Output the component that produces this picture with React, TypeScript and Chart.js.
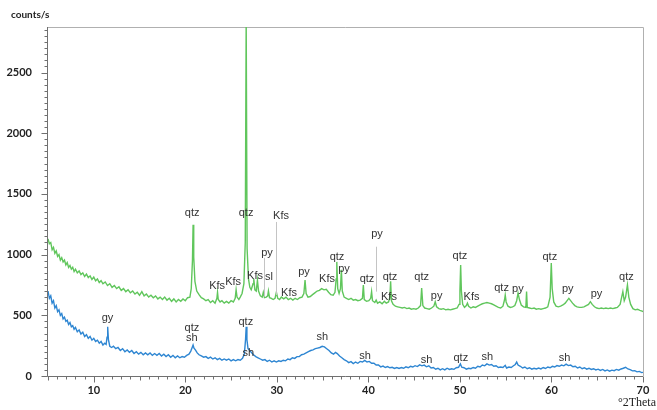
import { useEffect, useRef } from 'react';
import { Chart, registerables } from 'chart.js';

Chart.register(...registerables);

// Upper (green) diffractogram: [°2Theta, counts/s]
const greenScan: [number, number][] = [
  [5.0, 1130], [5.15, 1090], [5.3, 1100], [5.45, 1040], [5.6, 1060], [5.75, 1010], [5.9, 1030],
  [6.05, 985], [6.2, 1000], [6.35, 955], [6.5, 975], [6.65, 940], [6.8, 955], [6.95, 915],
  [7.1, 935], [7.25, 895], [7.4, 910], [7.55, 880], [7.7, 895], [7.85, 860], [8.0, 880],
  [8.2, 850], [8.4, 865], [8.6, 835], [8.8, 850], [9.0, 820], [9.2, 840], [9.4, 810],
  [9.6, 825], [9.8, 795], [10.0, 815], [10.2, 785], [10.4, 800], [10.6, 770], [10.8, 785],
  [11.0, 760], [11.25, 775], [11.5, 745], [11.75, 760], [12.0, 730], [12.25, 745], [12.5, 720],
  [12.75, 735], [13.0, 705], [13.25, 720], [13.5, 695], [13.75, 710], [14.0, 685], [14.25, 700],
  [14.5, 675], [14.75, 690], [15.0, 665], [15.25, 695], [15.5, 660], [15.75, 675], [16.0, 650],
  [16.25, 665], [16.5, 645], [16.75, 660], [17.0, 635], [17.25, 650], [17.5, 630], [17.75, 650],
  [18.0, 625], [18.25, 640], [18.5, 615], [18.75, 635], [19.0, 610], [19.25, 630], [19.5, 615],
  [19.75, 635], [20.0, 620], [20.25, 645], [20.5, 650], [20.65, 720], [20.78, 950], [20.85, 1245],
  [20.92, 980], [21.05, 780], [21.25, 700], [21.5, 670], [21.75, 645], [22.0, 635], [22.25, 620],
  [22.5, 630], [22.75, 605], [23.0, 620], [23.25, 600], [23.45, 640], [23.52, 690], [23.6, 630],
  [23.8, 610], [24.0, 620], [24.25, 600], [24.5, 615], [24.75, 600], [25.0, 620], [25.25, 610],
  [25.45, 640], [25.55, 710], [25.65, 650], [25.85, 630], [26.0, 650], [26.2, 680], [26.4, 760],
  [26.55, 1100], [26.65, 2950], [26.75, 1050], [26.9, 800], [27.05, 730], [27.2, 710], [27.4, 760],
  [27.48, 800], [27.6, 710], [27.75, 700], [27.88, 790], [28.0, 700], [28.2, 660], [28.4, 650],
  [28.52, 690], [28.65, 645], [28.85, 650], [29.0, 660], [29.08, 700], [29.2, 645], [29.4, 640],
  [29.6, 630], [29.8, 640], [29.95, 690], [30.1, 640], [30.3, 630], [30.5, 650], [30.75, 635],
  [31.0, 650], [31.25, 630], [31.5, 640], [31.75, 625], [32.0, 640], [32.25, 630], [32.5, 645],
  [32.75, 650], [32.95, 680], [33.08, 790], [33.2, 680], [33.4, 650], [33.65, 655], [33.9, 670],
  [34.15, 685], [34.4, 700], [34.65, 705], [34.9, 720], [35.15, 710], [35.4, 715], [35.65, 690],
  [35.9, 670], [36.15, 665], [36.35, 690], [36.48, 800], [36.55, 940], [36.65, 720], [36.8, 680],
  [36.95, 720], [37.05, 875], [37.15, 700], [37.35, 650], [37.6, 640], [37.85, 630], [38.1, 640],
  [38.35, 625], [38.6, 630], [38.85, 620], [39.1, 625], [39.35, 640], [39.45, 750], [39.55, 630],
  [39.8, 615], [40.05, 620], [40.25, 640], [40.35, 695], [40.45, 620], [40.7, 605], [40.85, 625],
  [41.0, 600], [41.25, 610], [41.5, 595], [41.75, 615], [41.95, 600], [42.2, 610], [42.35, 650],
  [42.43, 780], [42.52, 620], [42.7, 590], [42.95, 575], [43.2, 570], [43.45, 565], [43.7, 560],
  [43.95, 565], [44.2, 555], [44.45, 560], [44.7, 550], [44.95, 555], [45.2, 550], [45.45, 560],
  [45.7, 580], [45.82, 725], [45.95, 580], [46.15, 560], [46.4, 555], [46.65, 550], [46.9, 560],
  [47.15, 575], [47.3, 612], [47.45, 570], [47.7, 555], [47.95, 550], [48.2, 555], [48.45, 545],
  [48.7, 550], [48.95, 545], [49.2, 550], [49.45, 555], [49.7, 560], [49.9, 590], [50.0, 700],
  [50.08, 915], [50.16, 700], [50.3, 590], [50.5, 565], [50.7, 580], [50.82, 600], [50.95, 575],
  [51.2, 560], [51.45, 570], [51.7, 565], [51.95, 575], [52.2, 585], [52.45, 595], [52.7, 600],
  [52.95, 605], [53.2, 600], [53.45, 595], [53.7, 585], [53.95, 575], [54.2, 565], [54.45, 560],
  [54.7, 575], [54.88, 630], [54.95, 667], [55.05, 610], [55.25, 575], [55.5, 565], [55.75, 570],
  [56.0, 580], [56.2, 620], [56.35, 683], [56.5, 630], [56.7, 585], [56.95, 570], [57.2, 565],
  [57.28, 695], [57.36, 565], [57.6, 560], [57.85, 555], [58.1, 560], [58.35, 550], [58.6, 555],
  [58.85, 550], [59.1, 555], [59.35, 560], [59.6, 570], [59.85, 650], [59.98, 930], [60.08, 720],
  [60.25, 610], [60.5, 575], [60.75, 570], [61.0, 575], [61.25, 585], [61.5, 600], [61.75, 625],
  [61.9, 640], [62.05, 625], [62.3, 600], [62.55, 580], [62.8, 570], [63.05, 565], [63.3, 565],
  [63.55, 570], [63.8, 580], [64.05, 590], [64.25, 612], [64.45, 590], [64.7, 570], [64.95, 560],
  [65.2, 555], [65.45, 560], [65.7, 555], [65.95, 560], [66.2, 555], [66.45, 560], [66.7, 555],
  [66.95, 560], [67.2, 565], [67.5, 590], [67.7, 660], [67.8, 695], [67.95, 620], [68.1, 650],
  [68.3, 750], [68.45, 650], [68.65, 590], [68.9, 555], [69.15, 545], [69.4, 550], [69.65, 540],
  [69.9, 535], [70.0, 530],
];

// Lower (blue) diffractogram: [°2Theta, counts/s]
const blueScan: [number, number][] = [
  [5.0, 700], [5.15, 640], [5.3, 660], [5.45, 600], [5.6, 620], [5.75, 560], [5.9, 580],
  [6.05, 530], [6.2, 545], [6.35, 500], [6.5, 515], [6.65, 470], [6.8, 485], [6.95, 450],
  [7.1, 460], [7.25, 425], [7.4, 440], [7.55, 405], [7.7, 415], [7.85, 385], [8.0, 400],
  [8.2, 365], [8.4, 380], [8.6, 345], [8.8, 360], [9.0, 325], [9.2, 340], [9.4, 310],
  [9.6, 325], [9.8, 295], [10.0, 310], [10.2, 285], [10.4, 295], [10.6, 270], [10.8, 285],
  [11.0, 255], [11.2, 270], [11.35, 260], [11.45, 320], [11.52, 405], [11.6, 300], [11.75, 245],
  [11.95, 235], [12.15, 245], [12.4, 225], [12.65, 235], [12.9, 210], [13.15, 225], [13.4, 200],
  [13.65, 215], [13.9, 195], [14.15, 210], [14.4, 185], [14.65, 200], [14.9, 180], [15.15, 195],
  [15.4, 175], [15.65, 190], [15.9, 175], [16.15, 190], [16.4, 170], [16.65, 185], [16.9, 170],
  [17.15, 185], [17.4, 165], [17.65, 180], [17.9, 160], [18.15, 175], [18.4, 155], [18.65, 170],
  [18.9, 150], [19.15, 165], [19.4, 150], [19.65, 160], [19.9, 155], [20.15, 170], [20.4, 180],
  [20.6, 205], [20.75, 235], [20.85, 255], [20.95, 230], [21.1, 215], [21.3, 190], [21.5, 175],
  [21.75, 165], [22.0, 155], [22.25, 160], [22.5, 145], [22.75, 155], [23.0, 140], [23.25, 150],
  [23.5, 135], [23.75, 145], [24.0, 130], [24.25, 140], [24.5, 130], [24.75, 140], [25.0, 125],
  [25.25, 135], [25.5, 125], [25.75, 135], [26.0, 130], [26.25, 145], [26.45, 180], [26.58, 300],
  [26.65, 405], [26.73, 300], [26.85, 225], [27.0, 215], [27.2, 195], [27.45, 175], [27.7, 160],
  [27.95, 150], [28.2, 140], [28.45, 130], [28.7, 135], [28.95, 120], [29.2, 130], [29.45, 115],
  [29.7, 125], [29.95, 115], [30.2, 125], [30.45, 120], [30.7, 130], [30.95, 125], [31.2, 140],
  [31.45, 135], [31.7, 150], [31.95, 145], [32.2, 160], [32.45, 160], [32.7, 175], [32.95, 180],
  [33.2, 190], [33.45, 200], [33.7, 210], [33.95, 215], [34.2, 225], [34.45, 230], [34.7, 235],
  [34.95, 245], [35.2, 240], [35.45, 225], [35.7, 210], [35.95, 190], [36.2, 180], [36.4, 195],
  [36.6, 185], [36.85, 165], [37.1, 150], [37.35, 135], [37.6, 125], [37.85, 110], [38.1, 118],
  [38.35, 102], [38.6, 115], [38.85, 105], [39.1, 120], [39.35, 115], [39.6, 128], [39.85, 115],
  [40.1, 120], [40.35, 105], [40.6, 105], [40.85, 90], [41.1, 90], [41.35, 75], [41.6, 82],
  [41.85, 70], [42.1, 78], [42.35, 68], [42.6, 72], [42.85, 62], [43.1, 70], [43.35, 62],
  [43.6, 70], [43.85, 64], [44.1, 75], [44.35, 68], [44.6, 80], [44.85, 74], [45.1, 85],
  [45.35, 78], [45.6, 92], [45.85, 84], [46.1, 90], [46.35, 76], [46.6, 84], [46.85, 66],
  [47.1, 70], [47.35, 56], [47.6, 64], [47.85, 50], [48.1, 60], [48.35, 50], [48.6, 64],
  [48.85, 54], [49.1, 60], [49.35, 55], [49.6, 68], [49.85, 72], [50.05, 100], [50.2, 72],
  [50.45, 68], [50.7, 56], [50.95, 64], [51.2, 60], [51.45, 70], [51.7, 64], [51.95, 80],
  [52.2, 74], [52.45, 90], [52.7, 84], [52.95, 100], [53.2, 90], [53.45, 95], [53.7, 80],
  [53.95, 84], [54.2, 70], [54.45, 74], [54.7, 70], [54.95, 88], [55.1, 66], [55.35, 74],
  [55.6, 70], [55.85, 84], [56.05, 95], [56.2, 115], [56.35, 90], [56.6, 80], [56.85, 66],
  [57.1, 74], [57.35, 60], [57.6, 68], [57.85, 56], [58.1, 64], [58.35, 58], [58.6, 66],
  [58.85, 58], [59.1, 70], [59.35, 62], [59.6, 74], [59.85, 68], [60.1, 80], [60.35, 74],
  [60.6, 86], [60.85, 80], [61.1, 90], [61.35, 84], [61.6, 98], [61.85, 86], [62.1, 90],
  [62.35, 76], [62.6, 80], [62.85, 66], [63.1, 74], [63.35, 60], [63.6, 68], [63.85, 56],
  [64.1, 64], [64.35, 54], [64.6, 60], [64.85, 50], [65.1, 56], [65.35, 46], [65.6, 54],
  [65.85, 42], [66.1, 50], [66.35, 40], [66.6, 48], [66.85, 44], [67.1, 54], [67.35, 48],
  [67.6, 58], [67.85, 64], [68.1, 72], [68.35, 58], [68.6, 52], [68.85, 42], [69.1, 44],
  [69.35, 34], [69.6, 38], [69.85, 28], [70.0, 30],
];

const xTickValues = [10, 20, 30, 40, 50, 60, 70];
const yTickValues = [0, 500, 1000, 1500, 2000, 2500];

// Phase labels: [text, °2Theta, counts/s]
const greenLabels: [string, number, number][] = [
  ['qtz', 20.75, 1343], ['Kfs', 23.48, 742], ['Kfs', 25.22, 775], ['qtz', 26.64, 1343],
  ['Kfs', 27.62, 824], ['py', 28.93, 1014], ['sl', 29.15, 816], ['Kfs', 30.46, 1318],
  ['Kfs', 31.33, 684], ['py', 32.97, 857], ['Kfs', 35.48, 799], ['qtz', 36.57, 981],
  ['py', 37.34, 882], ['qtz', 39.85, 799], ['py', 40.94, 1170], ['qtz', 42.36, 816],
  ['Kfs', 42.25, 651], ['qtz', 45.82, 816], ['py', 47.45, 659], ['qtz', 50.0, 989],
  ['Kfs', 51.27, 651], ['qtz', 54.55, 725], ['py', 56.33, 717], ['qtz', 59.82, 983],
  ['py', 61.78, 717], ['py', 64.92, 676], ['qtz', 68.19, 818],
];
const blueLabels: [string, number, number][] = [
  ['gy', 11.5, 475], ['qtz', 20.72, 398], ['sh', 20.72, 311], ['qtz', 26.61, 447],
  ['sh', 26.89, 192], ['sh', 34.97, 319], ['sh', 39.63, 167], ['sh', 46.36, 132],
  ['qtz', 50.1, 146], ['sh', 52.98, 154], ['sh', 61.44, 146],
];
// Leader lines: [°2Theta, from counts, to counts]
const leaderLines: [number, number, number][] = [
  [29.95, 1269, 667], [28.58, 973, 654], [40.85, 1065, 695],
];

const GREEN = 'rgb(96, 198, 92)';
const BLUE = 'rgb(46, 134, 210)';

const decor = {
  id: 'decor',
  beforeDatasetsDraw(chart: any) {
    const { ctx, chartArea: a, scales } = chart;
    const x = scales.x;
    const y = scales.y;
    ctx.save();
    ctx.lineWidth = 1;
    ctx.strokeStyle = '#b0b0b0';
    ctx.beginPath();
    ctx.moveTo(a.left, Math.round(a.top) + 0.5);
    ctx.lineTo(Math.round(a.right) + 0.5, Math.round(a.top) + 0.5);
    ctx.lineTo(Math.round(a.right) + 0.5, a.bottom);
    ctx.stroke();
    ctx.strokeStyle = '#707070';
    ctx.beginPath();
    ctx.moveTo(Math.round(a.left) - 0.5, a.top);
    ctx.lineTo(Math.round(a.left) - 0.5, Math.round(a.bottom) + 0.5);
    ctx.lineTo(a.right, Math.round(a.bottom) + 0.5);
    ctx.stroke();
    ctx.beginPath();
    for (let v = 0; v <= y.max; v += 50) {
      const py = Math.round(y.getPixelForValue(v)) + 0.5;
      const len = v % 500 === 0 ? 6 : 3;
      ctx.moveTo(Math.round(a.left) - 0.5, py);
      ctx.lineTo(Math.round(a.left) - 0.5 - len, py);
    }
    for (let v = 5; v <= 70; v += 1) {
      const px = Math.round(x.getPixelForValue(v)) + 0.5;
      const len = v % 10 === 0 ? 6 : v % 5 === 0 ? 4 : 3;
      ctx.moveTo(px, Math.round(a.bottom) + 0.5);
      ctx.lineTo(px, Math.round(a.bottom) + 0.5 + len);
    }
    ctx.stroke();
    ctx.restore();
  },
  afterDatasetsDraw(chart: any) {
    const { ctx, scales } = chart;
    const x = scales.x;
    const y = scales.y;
    ctx.save();
    ctx.strokeStyle = '#c4c4c4';
    ctx.lineWidth = 1;
    ctx.beginPath();
    for (const [t, c0, c1] of leaderLines) {
      const px = Math.round(x.getPixelForValue(t)) + 0.5;
      ctx.moveTo(px, y.getPixelForValue(c0));
      ctx.lineTo(px, y.getPixelForValue(c1));
    }
    ctx.stroke();
    ctx.font = '11px "Liberation Sans", Arial, sans-serif';
    ctx.textAlign = 'center';
    ctx.textBaseline = 'middle';
    ctx.fillStyle = '#333';
    for (const [txt, t, c] of [...greenLabels, ...blueLabels]) {
      ctx.fillText(txt, x.getPixelForValue(t), y.getPixelForValue(c));
    }
    ctx.restore();
  },
  afterDraw(chart: any) {
    const { ctx } = chart;
    ctx.save();
    ctx.fillStyle = '#222';
    ctx.textBaseline = 'middle';
    ctx.textAlign = 'left';
    ctx.font = 'bold 10px Lato, sans-serif';
    ctx.fillText('counts/s', 11, 15);
    ctx.textAlign = 'right';
    ctx.font = '12px "Liberation Serif", serif';
    ctx.fillText('°2Theta', 656, 403);
    ctx.restore();
  },
};

export default function App() {
  const ref = useRef<HTMLCanvasElement | null>(null);
  useEffect(() => {
    if (!ref.current) return;
    const tickFont = { family: 'Lato, sans-serif', size: 11, weight: 'bold' as const };
    const chart = new Chart(ref.current, {
      type: 'line',
      data: {
        datasets: [
          {
            label: 'upper',
            data: greenScan.map(([t, c]) => ({ x: t, y: c })),
            borderColor: GREEN,
            borderWidth: 1.4,
            pointRadius: 0,
            tension: 0,
          },
          {
            label: 'lower',
            data: blueScan.map(([t, c]) => ({ x: t, y: c })),
            borderColor: BLUE,
            borderWidth: 1.4,
            pointRadius: 0,
            tension: 0,
          },
        ],
      },
      options: {
        responsive: false,
        animation: false,
        layout: { padding: { top: 27, right: 14, left: 0, bottom: 0 } },
        plugins: { legend: { display: false }, tooltip: { enabled: false } },
        scales: {
          x: {
            type: 'linear',
            min: 5,
            max: 70,
            grid: { display: false },
            border: { display: false },
            afterFit: (s: any) => { s.height = 34; },
            afterBuildTicks: (s: any) => { s.ticks = xTickValues.map((v) => ({ value: v })); },
            ticks: {
              padding: 0, color: '#222', font: tickFont, maxRotation: 0, autoSkip: false,
              callback: (v: any) => String(v),
            },
          },
          y: {
            type: 'linear',
            min: 0,
            max: 2875,
            grid: { display: false },
            border: { display: false },
            afterFit: (s: any) => { s.width = 48; },
            afterBuildTicks: (s: any) => { s.ticks = yTickValues.map((v) => ({ value: v })); },
            ticks: {
              padding: 8, color: '#222', font: tickFont, autoSkip: false,
              callback: (v: any) => String(v),
            },
          },
        },
      },
      plugins: [decor],
    });
    return () => chart.destroy();
  }, []);
  return (
    <div style={{ position: 'fixed', left: 0, top: 0, width: 657, height: 410, background: '#fff' }}>
      <canvas ref={ref} width={657} height={410} style={{ width: 657, height: 410, display: 'block' }} />
    </div>
  );
}
